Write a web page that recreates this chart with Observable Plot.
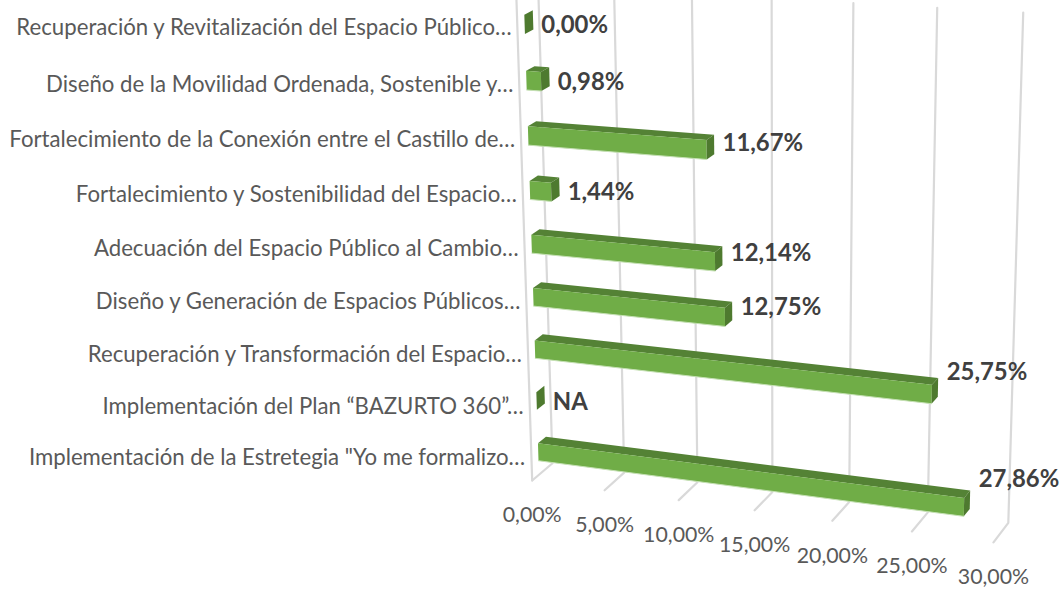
<!DOCTYPE html>
<html><head><meta charset="utf-8">
<script src="https://cdn.jsdelivr.net/npm/d3@7"></script>
<script src="https://cdn.jsdelivr.net/npm/@observablehq/plot@0.6"></script>
<style>html,body{margin:0;padding:0;background:#fff}svg{display:block}</style>
</head><body><div id="chart"></div>
<script>
// Categories, top to bottom, as printed
const categories = [
  "Recuperación y Revitalización del Espacio Público…",
  "Diseño de la Movilidad Ordenada, Sostenible y…",
  "Fortalecimiento de la Conexión entre el Castillo de…",
  "Fortalecimiento y Sostenibilidad del Espacio…",
  "Adecuación del Espacio Público al Cambio…",
  "Diseño y Generación de Espacios Públicos…",
  "Recuperación y Transformación del Espacio…",
  "Implementación del Plan “BAZURTO 360”…",
  "Implementación de la Estretegia \"Yo me formalizo…"
];
const values = [0, 0.98, 11.67, 1.44, 12.14, 12.75, 25.75, null, 27.86];
const valueLabels = ["0,00%", "0,98%", "11,67%", "1,44%", "12,14%", "12,75%", "25,75%", "NA", "27,86%"];
const ticks = [0, 5, 10, 15, 20, 25, 30];
const tickLabels = ["0,00%", "5,00%", "10,00%", "15,00%", "20,00%", "25,00%", "30,00%"];

// Perspective of the 3-D box: value v, row height r, depth d -> page position
function project(v, r, d) {
  const w = 1 - 0.002292 * v - 0.006563 * r + 0.01425 * d;
  return [
    (531.7 + 13.1 * v - 5.145 * r + 28.17 * d) / w,
    (480 + 0.82 * v - 53.7 * r - 10.66 * d) / w
  ];
}
const rows = categories.map((c, i) => ({
  category: c, value: values[i], label: valueLabels[i],
  r: categories.length - 1 - i + 0.45, v: values[i] ?? 0
}));
const halfH = 0.172, d0 = 0.33, d1 = 0.72, topR = 9;

const pts = (id, list) => list.map(([v, r, d]) => {
  const [x, y] = project(v, r, d);
  return {id, x, y};
});
const frontFaces = rows.filter(b => b.v > 0).flatMap((b, i) => pts("f" + i, [
  [0, b.r + halfH, d0], [b.v, b.r + halfH, d0], [b.v, b.r - halfH, d0], [0, b.r - halfH, d0]]));
const topFaces = rows.filter(b => b.v > 0).flatMap((b, i) => pts("t" + i, [
  [0, b.r + halfH, d0], [0, b.r + halfH, d1], [b.v, b.r + halfH, d1], [b.v, b.r + halfH, d0]]));
const sideFaces = rows.flatMap((b, i) => pts("s" + i, [
  [b.v, b.r + halfH, d0], [b.v, b.r + halfH, d1], [b.v, b.r - halfH, d1], [b.v, b.r - halfH, d0]]));
const lowerEdges = rows.filter(b => b.v > 0).flatMap((b, i) => pts("e" + i, [
  [0, b.r - halfH, d0], [b.v, b.r - halfH, d0]]));

const grid = [
  ...ticks.flatMap(t => pts("g" + t, [[t, 0, 0], [t, 0, 1], [t, topR, 1]])),
  ...pts("w", [[0, 0, 0], [0, topR, 0]])
];
const catText = rows.map(b => {
  const [x, y] = project(0, b.r, d0);
  return {text: b.category, x: x - 13, y: y + 6 - 0.25 * b.r};
});
const valText = rows.map(b => {
  const [xe] = project(b.v, b.r + halfH, d1);
  const y0 = project(0, b.r, d0)[1], y1 = project(b.v, b.r, d0)[1];
  return {text: b.label, x: xe + 8.5, y: y0 + 0.48 * (y1 - y0) + 1};
});
const tickText = ticks.map((t, i) => {
  const [x, y] = project(t, 0, 0);
  return {text: tickLabels[i], x, y: y + 35};
});

const font = "Lato, Carlito, Calibri, sans-serif";
const chart = Plot.plot({
  width: 1063, height: 589,
  marginTop: 0, marginRight: 0, marginBottom: 0, marginLeft: 0,
  x: {type: "linear", domain: [0, 1063], range: [0, 1063], axis: null},
  y: {type: "linear", domain: [0, 589], range: [0, 589], axis: null},
  style: {fontFamily: font, background: "#fff"},
  marks: [
    Plot.line(grid, {x: "x", y: "y", z: "id", stroke: "#D9D9D9", strokeWidth: 2.2, curve: "linear"}),
    Plot.line(topFaces, {x: "x", y: "y", z: "id", fill: "#548235", stroke: "none"}),
    Plot.line(frontFaces, {x: "x", y: "y", z: "id", fill: "#70AD47", stroke: "none"}),
    Plot.line(sideFaces, {x: "x", y: "y", z: "id", fill: "#4E7A2F", stroke: "none"}),
    Plot.line(lowerEdges, {x: "x", y: "y", z: "id", stroke: "#C5E0B4", strokeWidth: 1}),
    Plot.text(catText, {x: "x", y: "y", text: "text", textAnchor: "end", fontSize: 22.2, fill: "#595959"}),
    Plot.text(tickText, {x: "x", y: "y", text: "text", textAnchor: "middle", fontSize: 21.3, fill: "#595959"}),
    Plot.text(valText, {x: "x", y: "y", text: "text", textAnchor: "start", fontSize: 23.9, fontWeight: 700, fill: "#404040"})
  ]
});
document.getElementById("chart").appendChild(chart);
</script>
</body></html>
